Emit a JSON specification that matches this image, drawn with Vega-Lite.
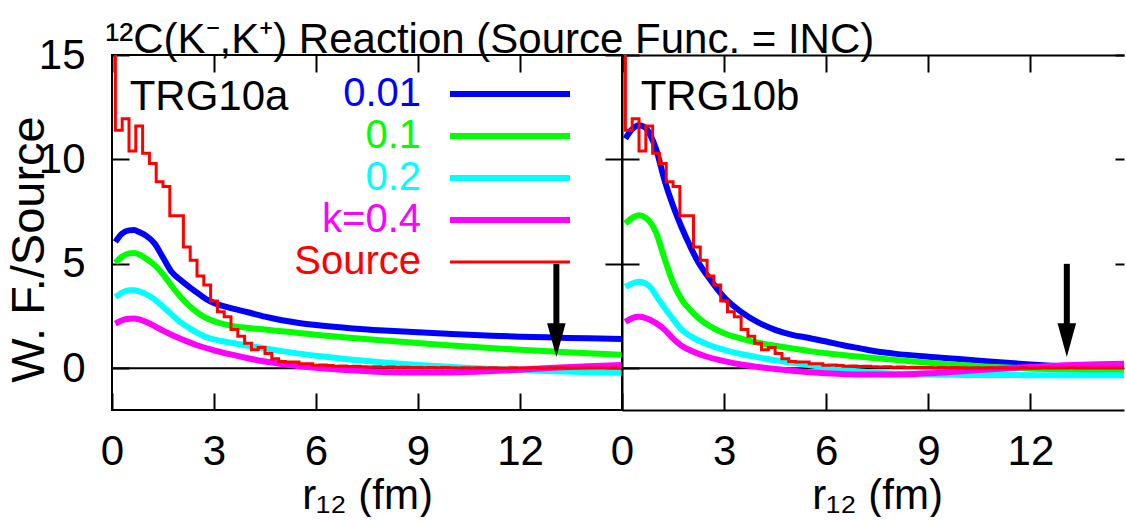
{
  "$schema": "https://vega.github.io/schema/vega-lite/v6.json",
  "background": "white",
  "padding": {"left": 4, "top": 18, "right": 0, "bottom": 0},
  "autosize": {"type": "pad"},
  "spacing": 0,
  "bounds": "flush",
  "config": {
    "font": "Liberation Sans",
    "view": {"stroke": "black", "strokeWidth": 2},
    "axis": {
      "domain": false, "grid": false, "domainColor": "black", "domainWidth": 2,
      "tickColor": "black", "tickWidth": 2,
      "labelFontSize": 42, "labelColor": "black", "labelFlush": false, "labelOverlap": false,
      "titleFontSize": 42, "titleFontWeight": "normal", "titleColor": "black"
    },
    "text": {"font": "Liberation Sans"}
  },
  "datasets": {
    "curves": [
      {"panel": "TRG10a", "series": "0.01", "x": 0.1, "y": 6.05},
      {"panel": "TRG10a", "series": "0.01", "x": 0.3, "y": 6.45},
      {"panel": "TRG10a", "series": "0.01", "x": 0.5, "y": 6.6},
      {"panel": "TRG10a", "series": "0.01", "x": 0.65, "y": 6.62},
      {"panel": "TRG10a", "series": "0.01", "x": 0.8, "y": 6.52},
      {"panel": "TRG10a", "series": "0.01", "x": 1.0, "y": 6.35},
      {"panel": "TRG10a", "series": "0.01", "x": 1.25, "y": 5.98},
      {"panel": "TRG10a", "series": "0.01", "x": 1.5, "y": 5.3},
      {"panel": "TRG10a", "series": "0.01", "x": 1.75, "y": 4.62},
      {"panel": "TRG10a", "series": "0.01", "x": 2.0, "y": 4.25},
      {"panel": "TRG10a", "series": "0.01", "x": 2.25, "y": 3.92},
      {"panel": "TRG10a", "series": "0.01", "x": 2.5, "y": 3.62},
      {"panel": "TRG10a", "series": "0.01", "x": 2.75, "y": 3.33},
      {"panel": "TRG10a", "series": "0.01", "x": 3.0, "y": 3.12},
      {"panel": "TRG10a", "series": "0.01", "x": 3.5, "y": 2.88},
      {"panel": "TRG10a", "series": "0.01", "x": 4.0, "y": 2.68},
      {"panel": "TRG10a", "series": "0.01", "x": 4.5, "y": 2.47},
      {"panel": "TRG10a", "series": "0.01", "x": 5.0, "y": 2.3},
      {"panel": "TRG10a", "series": "0.01", "x": 5.5, "y": 2.17},
      {"panel": "TRG10a", "series": "0.01", "x": 6.0, "y": 2.07},
      {"panel": "TRG10a", "series": "0.01", "x": 7.0, "y": 1.92},
      {"panel": "TRG10a", "series": "0.01", "x": 8.0, "y": 1.81},
      {"panel": "TRG10a", "series": "0.01", "x": 9.0, "y": 1.72},
      {"panel": "TRG10a", "series": "0.01", "x": 10.0, "y": 1.64},
      {"panel": "TRG10a", "series": "0.01", "x": 11.0, "y": 1.57},
      {"panel": "TRG10a", "series": "0.01", "x": 12.0, "y": 1.51},
      {"panel": "TRG10a", "series": "0.01", "x": 13.0, "y": 1.47},
      {"panel": "TRG10a", "series": "0.01", "x": 14.0, "y": 1.43},
      {"panel": "TRG10a", "series": "0.01", "x": 15.0, "y": 1.4},

      {"panel": "TRG10a", "series": "0.1", "x": 0.1, "y": 5.05},
      {"panel": "TRG10a", "series": "0.1", "x": 0.3, "y": 5.35},
      {"panel": "TRG10a", "series": "0.1", "x": 0.5, "y": 5.5},
      {"panel": "TRG10a", "series": "0.1", "x": 0.65, "y": 5.52},
      {"panel": "TRG10a", "series": "0.1", "x": 0.8, "y": 5.45},
      {"panel": "TRG10a", "series": "0.1", "x": 1.0, "y": 5.25},
      {"panel": "TRG10a", "series": "0.1", "x": 1.25, "y": 4.95},
      {"panel": "TRG10a", "series": "0.1", "x": 1.5, "y": 4.5},
      {"panel": "TRG10a", "series": "0.1", "x": 1.75, "y": 3.95},
      {"panel": "TRG10a", "series": "0.1", "x": 2.0, "y": 3.45},
      {"panel": "TRG10a", "series": "0.1", "x": 2.25, "y": 3.02},
      {"panel": "TRG10a", "series": "0.1", "x": 2.5, "y": 2.68},
      {"panel": "TRG10a", "series": "0.1", "x": 2.75, "y": 2.42},
      {"panel": "TRG10a", "series": "0.1", "x": 3.0, "y": 2.25},
      {"panel": "TRG10a", "series": "0.1", "x": 3.5, "y": 2.04},
      {"panel": "TRG10a", "series": "0.1", "x": 4.0, "y": 1.93},
      {"panel": "TRG10a", "series": "0.1", "x": 4.5, "y": 1.85},
      {"panel": "TRG10a", "series": "0.1", "x": 5.0, "y": 1.77},
      {"panel": "TRG10a", "series": "0.1", "x": 5.5, "y": 1.69},
      {"panel": "TRG10a", "series": "0.1", "x": 6.0, "y": 1.6},
      {"panel": "TRG10a", "series": "0.1", "x": 7.0, "y": 1.46},
      {"panel": "TRG10a", "series": "0.1", "x": 8.0, "y": 1.33},
      {"panel": "TRG10a", "series": "0.1", "x": 9.0, "y": 1.21},
      {"panel": "TRG10a", "series": "0.1", "x": 10.0, "y": 1.09},
      {"panel": "TRG10a", "series": "0.1", "x": 11.0, "y": 0.98},
      {"panel": "TRG10a", "series": "0.1", "x": 12.0, "y": 0.88},
      {"panel": "TRG10a", "series": "0.1", "x": 13.0, "y": 0.8},
      {"panel": "TRG10a", "series": "0.1", "x": 14.0, "y": 0.72},
      {"panel": "TRG10a", "series": "0.1", "x": 15.0, "y": 0.65},

      {"panel": "TRG10a", "series": "0.2", "x": 0.1, "y": 3.4},
      {"panel": "TRG10a", "series": "0.2", "x": 0.3, "y": 3.62},
      {"panel": "TRG10a", "series": "0.2", "x": 0.5, "y": 3.73},
      {"panel": "TRG10a", "series": "0.2", "x": 0.65, "y": 3.74},
      {"panel": "TRG10a", "series": "0.2", "x": 0.8, "y": 3.68},
      {"panel": "TRG10a", "series": "0.2", "x": 1.0, "y": 3.55},
      {"panel": "TRG10a", "series": "0.2", "x": 1.25, "y": 3.3},
      {"panel": "TRG10a", "series": "0.2", "x": 1.5, "y": 2.95},
      {"panel": "TRG10a", "series": "0.2", "x": 1.75, "y": 2.58},
      {"panel": "TRG10a", "series": "0.2", "x": 2.0, "y": 2.22},
      {"panel": "TRG10a", "series": "0.2", "x": 2.25, "y": 1.95},
      {"panel": "TRG10a", "series": "0.2", "x": 2.5, "y": 1.7},
      {"panel": "TRG10a", "series": "0.2", "x": 2.75, "y": 1.5},
      {"panel": "TRG10a", "series": "0.2", "x": 3.0, "y": 1.38},
      {"panel": "TRG10a", "series": "0.2", "x": 3.5, "y": 1.22},
      {"panel": "TRG10a", "series": "0.2", "x": 4.0, "y": 1.08},
      {"panel": "TRG10a", "series": "0.2", "x": 4.5, "y": 0.95},
      {"panel": "TRG10a", "series": "0.2", "x": 5.0, "y": 0.82},
      {"panel": "TRG10a", "series": "0.2", "x": 5.5, "y": 0.7},
      {"panel": "TRG10a", "series": "0.2", "x": 6.0, "y": 0.6},
      {"panel": "TRG10a", "series": "0.2", "x": 7.0, "y": 0.42},
      {"panel": "TRG10a", "series": "0.2", "x": 8.0, "y": 0.27},
      {"panel": "TRG10a", "series": "0.2", "x": 9.0, "y": 0.15},
      {"panel": "TRG10a", "series": "0.2", "x": 10.0, "y": 0.06},
      {"panel": "TRG10a", "series": "0.2", "x": 11.0, "y": -0.02},
      {"panel": "TRG10a", "series": "0.2", "x": 12.0, "y": -0.09},
      {"panel": "TRG10a", "series": "0.2", "x": 13.0, "y": -0.14},
      {"panel": "TRG10a", "series": "0.2", "x": 14.0, "y": -0.19},
      {"panel": "TRG10a", "series": "0.2", "x": 15.0, "y": -0.22},

      {"panel": "TRG10a", "series": "k=0.4", "x": 0.1, "y": 2.14},
      {"panel": "TRG10a", "series": "k=0.4", "x": 0.3, "y": 2.3},
      {"panel": "TRG10a", "series": "k=0.4", "x": 0.5, "y": 2.37},
      {"panel": "TRG10a", "series": "k=0.4", "x": 0.65, "y": 2.38},
      {"panel": "TRG10a", "series": "k=0.4", "x": 0.8, "y": 2.34},
      {"panel": "TRG10a", "series": "k=0.4", "x": 1.0, "y": 2.22},
      {"panel": "TRG10a", "series": "k=0.4", "x": 1.25, "y": 2.02},
      {"panel": "TRG10a", "series": "k=0.4", "x": 1.5, "y": 1.8},
      {"panel": "TRG10a", "series": "k=0.4", "x": 1.75, "y": 1.6},
      {"panel": "TRG10a", "series": "k=0.4", "x": 2.0, "y": 1.42},
      {"panel": "TRG10a", "series": "k=0.4", "x": 2.5, "y": 1.1},
      {"panel": "TRG10a", "series": "k=0.4", "x": 3.0, "y": 0.86},
      {"panel": "TRG10a", "series": "k=0.4", "x": 3.5, "y": 0.66},
      {"panel": "TRG10a", "series": "k=0.4", "x": 4.0, "y": 0.48},
      {"panel": "TRG10a", "series": "k=0.4", "x": 4.5, "y": 0.32},
      {"panel": "TRG10a", "series": "k=0.4", "x": 5.0, "y": 0.2},
      {"panel": "TRG10a", "series": "k=0.4", "x": 5.5, "y": 0.1},
      {"panel": "TRG10a", "series": "k=0.4", "x": 6.0, "y": 0.02},
      {"panel": "TRG10a", "series": "k=0.4", "x": 7.0, "y": -0.1},
      {"panel": "TRG10a", "series": "k=0.4", "x": 8.0, "y": -0.18},
      {"panel": "TRG10a", "series": "k=0.4", "x": 9.0, "y": -0.21},
      {"panel": "TRG10a", "series": "k=0.4", "x": 10.0, "y": -0.2},
      {"panel": "TRG10a", "series": "k=0.4", "x": 11.0, "y": -0.15},
      {"panel": "TRG10a", "series": "k=0.4", "x": 12.0, "y": -0.07},
      {"panel": "TRG10a", "series": "k=0.4", "x": 13.0, "y": 0.02},
      {"panel": "TRG10a", "series": "k=0.4", "x": 14.0, "y": 0.09},
      {"panel": "TRG10a", "series": "k=0.4", "x": 15.0, "y": 0.15},

      {"panel": "TRG10b", "series": "0.01", "x": 0.1, "y": 11.0},
      {"panel": "TRG10b", "series": "0.01", "x": 0.3, "y": 11.45},
      {"panel": "TRG10b", "series": "0.01", "x": 0.5, "y": 11.64},
      {"panel": "TRG10b", "series": "0.01", "x": 0.7, "y": 11.5},
      {"panel": "TRG10b", "series": "0.01", "x": 0.85, "y": 11.1},
      {"panel": "TRG10b", "series": "0.01", "x": 1.0, "y": 10.5},
      {"panel": "TRG10b", "series": "0.01", "x": 1.25, "y": 9.0},
      {"panel": "TRG10b", "series": "0.01", "x": 1.5, "y": 7.78},
      {"panel": "TRG10b", "series": "0.01", "x": 1.75, "y": 6.75},
      {"panel": "TRG10b", "series": "0.01", "x": 2.0, "y": 5.85},
      {"panel": "TRG10b", "series": "0.01", "x": 2.25, "y": 5.05},
      {"panel": "TRG10b", "series": "0.01", "x": 2.5, "y": 4.45},
      {"panel": "TRG10b", "series": "0.01", "x": 2.75, "y": 3.9},
      {"panel": "TRG10b", "series": "0.01", "x": 3.0, "y": 3.4},
      {"panel": "TRG10b", "series": "0.01", "x": 3.5, "y": 2.7},
      {"panel": "TRG10b", "series": "0.01", "x": 4.0, "y": 2.2},
      {"panel": "TRG10b", "series": "0.01", "x": 4.5, "y": 1.84},
      {"panel": "TRG10b", "series": "0.01", "x": 5.0, "y": 1.6},
      {"panel": "TRG10b", "series": "0.01", "x": 5.5, "y": 1.45},
      {"panel": "TRG10b", "series": "0.01", "x": 6.0, "y": 1.28},
      {"panel": "TRG10b", "series": "0.01", "x": 6.5, "y": 1.1},
      {"panel": "TRG10b", "series": "0.01", "x": 7.0, "y": 0.95},
      {"panel": "TRG10b", "series": "0.01", "x": 7.5, "y": 0.8},
      {"panel": "TRG10b", "series": "0.01", "x": 8.0, "y": 0.7},
      {"panel": "TRG10b", "series": "0.01", "x": 9.0, "y": 0.55},
      {"panel": "TRG10b", "series": "0.01", "x": 10.0, "y": 0.43},
      {"panel": "TRG10b", "series": "0.01", "x": 11.0, "y": 0.3},
      {"panel": "TRG10b", "series": "0.01", "x": 12.0, "y": 0.18},
      {"panel": "TRG10b", "series": "0.01", "x": 13.0, "y": 0.08},
      {"panel": "TRG10b", "series": "0.01", "x": 14.0, "y": 0.0},
      {"panel": "TRG10b", "series": "0.01", "x": 15.0, "y": -0.06},

      {"panel": "TRG10b", "series": "0.1", "x": 0.1, "y": 6.93},
      {"panel": "TRG10b", "series": "0.1", "x": 0.3, "y": 7.2},
      {"panel": "TRG10b", "series": "0.1", "x": 0.5, "y": 7.33},
      {"panel": "TRG10b", "series": "0.1", "x": 0.7, "y": 7.2},
      {"panel": "TRG10b", "series": "0.1", "x": 0.85, "y": 6.95},
      {"panel": "TRG10b", "series": "0.1", "x": 1.0, "y": 6.5},
      {"panel": "TRG10b", "series": "0.1", "x": 1.25, "y": 5.25},
      {"panel": "TRG10b", "series": "0.1", "x": 1.5, "y": 4.1},
      {"panel": "TRG10b", "series": "0.1", "x": 1.75, "y": 3.3},
      {"panel": "TRG10b", "series": "0.1", "x": 2.0, "y": 2.8},
      {"panel": "TRG10b", "series": "0.1", "x": 2.25, "y": 2.4},
      {"panel": "TRG10b", "series": "0.1", "x": 2.5, "y": 2.1},
      {"panel": "TRG10b", "series": "0.1", "x": 3.0, "y": 1.68},
      {"panel": "TRG10b", "series": "0.1", "x": 3.5, "y": 1.42},
      {"panel": "TRG10b", "series": "0.1", "x": 4.0, "y": 1.22},
      {"panel": "TRG10b", "series": "0.1", "x": 4.5, "y": 1.08},
      {"panel": "TRG10b", "series": "0.1", "x": 5.0, "y": 0.95},
      {"panel": "TRG10b", "series": "0.1", "x": 5.5, "y": 0.82},
      {"panel": "TRG10b", "series": "0.1", "x": 6.0, "y": 0.72},
      {"panel": "TRG10b", "series": "0.1", "x": 7.0, "y": 0.55},
      {"panel": "TRG10b", "series": "0.1", "x": 8.0, "y": 0.4},
      {"panel": "TRG10b", "series": "0.1", "x": 9.0, "y": 0.26},
      {"panel": "TRG10b", "series": "0.1", "x": 10.0, "y": 0.14},
      {"panel": "TRG10b", "series": "0.1", "x": 11.0, "y": 0.06},
      {"panel": "TRG10b", "series": "0.1", "x": 12.0, "y": -0.01},
      {"panel": "TRG10b", "series": "0.1", "x": 13.0, "y": -0.06},
      {"panel": "TRG10b", "series": "0.1", "x": 14.0, "y": -0.1},
      {"panel": "TRG10b", "series": "0.1", "x": 15.0, "y": -0.12},

      {"panel": "TRG10b", "series": "0.2", "x": 0.1, "y": 3.9},
      {"panel": "TRG10b", "series": "0.2", "x": 0.3, "y": 4.06},
      {"panel": "TRG10b", "series": "0.2", "x": 0.5, "y": 4.14},
      {"panel": "TRG10b", "series": "0.2", "x": 0.7, "y": 4.05},
      {"panel": "TRG10b", "series": "0.2", "x": 0.85, "y": 3.85},
      {"panel": "TRG10b", "series": "0.2", "x": 1.0, "y": 3.48},
      {"panel": "TRG10b", "series": "0.2", "x": 1.25, "y": 2.9},
      {"panel": "TRG10b", "series": "0.2", "x": 1.5, "y": 2.35},
      {"panel": "TRG10b", "series": "0.2", "x": 1.75, "y": 1.85},
      {"panel": "TRG10b", "series": "0.2", "x": 2.0, "y": 1.55},
      {"panel": "TRG10b", "series": "0.2", "x": 2.5, "y": 1.15},
      {"panel": "TRG10b", "series": "0.2", "x": 3.0, "y": 0.88},
      {"panel": "TRG10b", "series": "0.2", "x": 3.5, "y": 0.68},
      {"panel": "TRG10b", "series": "0.2", "x": 4.0, "y": 0.52},
      {"panel": "TRG10b", "series": "0.2", "x": 4.5, "y": 0.38},
      {"panel": "TRG10b", "series": "0.2", "x": 5.0, "y": 0.27},
      {"panel": "TRG10b", "series": "0.2", "x": 5.5, "y": 0.15},
      {"panel": "TRG10b", "series": "0.2", "x": 6.0, "y": 0.03},
      {"panel": "TRG10b", "series": "0.2", "x": 6.5, "y": -0.08},
      {"panel": "TRG10b", "series": "0.2", "x": 7.0, "y": -0.16},
      {"panel": "TRG10b", "series": "0.2", "x": 8.0, "y": -0.26},
      {"panel": "TRG10b", "series": "0.2", "x": 9.0, "y": -0.3},
      {"panel": "TRG10b", "series": "0.2", "x": 10.0, "y": -0.32},
      {"panel": "TRG10b", "series": "0.2", "x": 12.0, "y": -0.33},
      {"panel": "TRG10b", "series": "0.2", "x": 14.0, "y": -0.33},
      {"panel": "TRG10b", "series": "0.2", "x": 15.0, "y": -0.33},

      {"panel": "TRG10b", "series": "k=0.4", "x": 0.1, "y": 2.22},
      {"panel": "TRG10b", "series": "k=0.4", "x": 0.3, "y": 2.4},
      {"panel": "TRG10b", "series": "k=0.4", "x": 0.5, "y": 2.46},
      {"panel": "TRG10b", "series": "k=0.4", "x": 0.7, "y": 2.4},
      {"panel": "TRG10b", "series": "k=0.4", "x": 0.85, "y": 2.3},
      {"panel": "TRG10b", "series": "k=0.4", "x": 1.0, "y": 2.16},
      {"panel": "TRG10b", "series": "k=0.4", "x": 1.25, "y": 1.85},
      {"panel": "TRG10b", "series": "k=0.4", "x": 1.5, "y": 1.42},
      {"panel": "TRG10b", "series": "k=0.4", "x": 1.75, "y": 1.08},
      {"panel": "TRG10b", "series": "k=0.4", "x": 2.0, "y": 0.86},
      {"panel": "TRG10b", "series": "k=0.4", "x": 2.5, "y": 0.55},
      {"panel": "TRG10b", "series": "k=0.4", "x": 3.0, "y": 0.34},
      {"panel": "TRG10b", "series": "k=0.4", "x": 3.5, "y": 0.18},
      {"panel": "TRG10b", "series": "k=0.4", "x": 4.0, "y": 0.06},
      {"panel": "TRG10b", "series": "k=0.4", "x": 4.5, "y": -0.04},
      {"panel": "TRG10b", "series": "k=0.4", "x": 5.0, "y": -0.12},
      {"panel": "TRG10b", "series": "k=0.4", "x": 6.0, "y": -0.24},
      {"panel": "TRG10b", "series": "k=0.4", "x": 7.0, "y": -0.3},
      {"panel": "TRG10b", "series": "k=0.4", "x": 8.0, "y": -0.3},
      {"panel": "TRG10b", "series": "k=0.4", "x": 9.0, "y": -0.24},
      {"panel": "TRG10b", "series": "k=0.4", "x": 10.0, "y": -0.14},
      {"panel": "TRG10b", "series": "k=0.4", "x": 11.0, "y": -0.04},
      {"panel": "TRG10b", "series": "k=0.4", "x": 12.0, "y": 0.06},
      {"panel": "TRG10b", "series": "k=0.4", "x": 13.0, "y": 0.14},
      {"panel": "TRG10b", "series": "k=0.4", "x": 14.0, "y": 0.19},
      {"panel": "TRG10b", "series": "k=0.4", "x": 15.0, "y": 0.22}
    ],
    "source": [
      {"x": 0.0, "y": 40}, {"x": 0.2, "y": 11.4}, {"x": 0.4, "y": 11.95}, {"x": 0.6, "y": 10.4},
      {"x": 0.8, "y": 11.6}, {"x": 1.0, "y": 10.3}, {"x": 1.2, "y": 9.8}, {"x": 1.4, "y": 8.93},
      {"x": 1.6, "y": 8.7}, {"x": 1.8, "y": 7.3}, {"x": 2.0, "y": 7.3}, {"x": 2.2, "y": 5.8},
      {"x": 2.4, "y": 5.17}, {"x": 2.6, "y": 4.42}, {"x": 2.8, "y": 3.98}, {"x": 3.0, "y": 3.22},
      {"x": 3.2, "y": 2.7}, {"x": 3.4, "y": 2.46}, {"x": 3.6, "y": 1.85}, {"x": 3.8, "y": 1.53},
      {"x": 4.0, "y": 1.2}, {"x": 4.2, "y": 0.88}, {"x": 4.4, "y": 0.99}, {"x": 4.6, "y": 0.7},
      {"x": 4.8, "y": 0.45}, {"x": 5.0, "y": 0.32}, {"x": 5.2, "y": 0.3}, {"x": 5.4, "y": 0.3},
      {"x": 5.6, "y": 0.22}, {"x": 5.8, "y": 0.22}, {"x": 6.0, "y": 0.14}, {"x": 6.2, "y": 0.16},
      {"x": 6.4, "y": 0.13}, {"x": 6.6, "y": 0.1}, {"x": 6.8, "y": 0.11}, {"x": 7.0, "y": 0.08},
      {"x": 7.2, "y": 0.1}, {"x": 7.4, "y": 0.07}, {"x": 7.6, "y": 0.06}, {"x": 7.8, "y": 0.07},
      {"x": 8.0, "y": 0.05}, {"x": 8.2, "y": 0.06}, {"x": 8.4, "y": 0.04}, {"x": 8.6, "y": 0.05},
      {"x": 8.8, "y": 0.03}, {"x": 9.0, "y": 0.04}, {"x": 9.2, "y": 0.02}, {"x": 9.4, "y": 0.03},
      {"x": 9.6, "y": 0.02}, {"x": 9.8, "y": 0.03}, {"x": 10.0, "y": 0.02}, {"x": 10.2, "y": 0.01},
      {"x": 10.4, "y": 0.02}, {"x": 10.6, "y": 0.01}, {"x": 10.8, "y": 0.02}, {"x": 11.0, "y": 0.01},
      {"x": 11.2, "y": 0.02}, {"x": 11.4, "y": 0.01}, {"x": 11.6, "y": 0.01}, {"x": 11.8, "y": 0.02},
      {"x": 12.0, "y": 0.01}, {"x": 12.2, "y": 0.01}, {"x": 12.4, "y": 0.02}, {"x": 12.6, "y": 0.01},
      {"x": 12.8, "y": 0.01}, {"x": 13.0, "y": 0.01}, {"x": 13.2, "y": 0.02}, {"x": 13.4, "y": 0.01},
      {"x": 13.6, "y": 0.01}, {"x": 13.8, "y": 0.01}, {"x": 14.0, "y": 0.01}, {"x": 14.2, "y": 0.01},
      {"x": 14.4, "y": 0.01}, {"x": 14.6, "y": 0.01}, {"x": 14.8, "y": 0.01}, {"x": 15.0, "y": 0.01}
    ],
    "arrow": [{"x": 13.07, "top": 5.0, "base": 2.05, "head": 1.35}]
  },
  "resolve": {"legend": {"color": "independent"}},
  "hconcat": [
    {
      "width": 510,
      "height": 355,
      "resolve": {"axis": {"x": "independent", "y": "independent"}},
      "layer": [
        {
          "data": {"values": [{"z": 0}]},
          "mark": {"type": "rule", "color": "black", "strokeWidth": 2},
          "encoding": {"y": {"field": "z", "type": "quantitative", "axis": null}}
        },
        {
          "data": {"name": "curves"},
          "transform": [{"filter": "datum.panel === 'TRG10a'"}],
          "mark": {"type": "line", "strokeWidth": 6, "interpolate": "monotone", "clip": true},
          "encoding": {
            "x": {"field": "x", "type": "quantitative", "scale": {"domain": [0, 15], "nice": false, "zero": false},
                  "axis": {"orient": "bottom", "values": [0, 3, 6, 9, 12], "tickSize": -17, "labelPadding": 38,
                           "title": "r₁₂ (fm)", "titleY": 98, "titleBaseline": "alphabetic"}},
            "y": {"field": "y", "type": "quantitative", "scale": {"domain": [-2, 15], "nice": false, "zero": false},
                  "axis": {"orient": "left", "values": [0, 5, 10, 15], "tickSize": -17, "labelPadding": 44,
                           "title": "W. F./Source", "titleFontSize": 47, "titleX": -68.5, "titleY": 194, "titleBaseline": "alphabetic"}},
            "color": {"field": "series", "type": "nominal",
                      "scale": {"domain": ["0.01", "0.1", "0.2", "k=0.4", "Source"],
                                "range": ["#0000ff", "#00ff00", "#00ffff", "#ff00ff", "#ff0000"]},
                      "legend": {"orient": "none", "legendX": 378, "legendY": 19, "title": null,
                                 "symbolType": "stroke", "symbolSize": 14400, "symbolStrokeWidth": 6,
                                 "labelFontSize": 40, "labelAlign": "right", "labelBaseline": "middle",
                                 "labelOffset": -109, "labelLimit": 0, "rowPadding": 2, "padding": 0,
                                 "encode": {
                                   "symbols": {"update": {"strokeWidth": {"signal": "datum.label === 'Source' ? 3 : 6"}}},
                                   "labels": {"update": {"fill": {"signal": "datum.label === '0.01' ? '#0000ff' : datum.label === '0.1' ? '#00ff00' : datum.label === '0.2' ? '#00ffff' : datum.label === 'k=0.4' ? '#ff00ff' : '#ff0000'"}}}
                                 }}}
          }
        },
        {
          "data": {"name": "source"},
          "mark": {"type": "line", "strokeWidth": 3, "interpolate": "step", "clip": true},
          "encoding": {
            "x": {"field": "x", "type": "quantitative",
                  "axis": {"orient": "top", "values": [0, 3, 6, 9, 12, 15], "tickSize": -17, "labels": false, "title": null}},
            "y": {"field": "y", "type": "quantitative",
                  "axis": {"orient": "right", "values": [0, 5, 10, 15], "tickSize": -17, "labels": false, "title": null}},
            "color": {"datum": "Source", "type": "nominal"}
          }
        },
        {
          "data": {"name": "arrow"},
          "mark": {"type": "rule", "color": "black", "strokeWidth": 6},
          "encoding": {
            "x": {"field": "x", "type": "quantitative", "axis": null},
            "y": {"field": "top", "type": "quantitative", "axis": null},
            "y2": {"field": "base"}
          }
        },
        {
          "data": {"name": "arrow"},
          "mark": {"type": "point", "shape": "M -0.55 -1 L 0.55 -1 L 0 1 Z", "filled": true, "color": "black", "size": 1136, "opacity": 1, "strokeWidth": 0},
          "encoding": {
            "x": {"field": "x", "type": "quantitative", "axis": null},
            "y": {"field": "head", "type": "quantitative", "axis": null}
          }
        },
        {
          "data": {"values": [{"label": "TRG10a"}]},
          "mark": {"type": "text", "fontSize": 42, "align": "left", "baseline": "alphabetic", "color": "black"},
          "encoding": {
            "text": {"field": "label"},
            "x": {"datum": 0.52, "type": "quantitative", "axis": null},
            "y": {"datum": 12.36, "type": "quantitative", "axis": null}
          }
        },
        {
          "data": {"values": [{"t": "¹²C(K⁻,K⁺) Reaction (Source Func. = INC)"}]},
          "mark": {"type": "text", "fontSize": 42, "align": "left", "baseline": "alphabetic", "color": "black", "clip": false},
          "encoding": {
            "text": {"field": "t"},
            "x": {"datum": -0.2, "type": "quantitative", "axis": null},
            "y": {"datum": 15.08, "type": "quantitative", "axis": null}
          }
        }
      ]
    },
    {
      "width": 502,
      "height": 355,
      "view": {"stroke": null},
      "resolve": {"axis": {"x": "independent", "y": "independent"}},
      "layer": [
        {
          "data": {"values": [{"z": 0}]},
          "mark": {"type": "rule", "color": "black", "strokeWidth": 2},
          "encoding": {"y": {"field": "z", "type": "quantitative", "axis": null}}
        },
        {
          "data": {"name": "curves"},
          "transform": [{"filter": "datum.panel === 'TRG10b'"}],
          "mark": {"type": "line", "strokeWidth": 6, "interpolate": "monotone", "clip": true},
          "encoding": {
            "x": {"field": "x", "type": "quantitative", "scale": {"domain": [0, 14.75], "nice": false, "zero": false},
                  "axis": {"orient": "bottom", "values": [0, 3, 6, 9, 12], "tickSize": -17, "labelPadding": 38, "domain": true,
                           "title": "r₁₂ (fm)", "titleY": 98, "titleBaseline": "alphabetic", "titleX": 255}},
            "y": {"field": "y", "type": "quantitative", "scale": {"domain": [-2, 15], "nice": false, "zero": false},
                  "axis": {"orient": "left", "values": [0, 5, 10, 15], "tickSize": -17, "labels": false, "title": null, "domain": true}},
            "color": {"field": "series", "type": "nominal",
                      "scale": {"domain": ["0.01", "0.1", "0.2", "k=0.4", "Source"],
                                "range": ["#0000ff", "#00ff00", "#00ffff", "#ff00ff", "#ff0000"]},
                      "legend": null}
          }
        },
        {
          "data": {"name": "source"},
          "mark": {"type": "line", "strokeWidth": 3, "interpolate": "step", "clip": true},
          "encoding": {
            "x": {"field": "x", "type": "quantitative",
                  "axis": {"orient": "top", "values": [0, 3, 6, 9, 12], "tickSize": -17, "labels": false, "title": null, "domain": true}},
            "y": {"field": "y", "type": "quantitative",
                  "axis": {"orient": "right", "values": [0, 5, 10, 15], "tickSize": -9, "labels": false, "title": null}},
            "color": {"datum": "Source", "type": "nominal", "legend": null}
          }
        },
        {
          "data": {"name": "arrow"},
          "mark": {"type": "rule", "color": "black", "strokeWidth": 6},
          "encoding": {
            "x": {"field": "x", "type": "quantitative", "axis": null},
            "y": {"field": "top", "type": "quantitative", "axis": null},
            "y2": {"field": "base"}
          }
        },
        {
          "data": {"name": "arrow"},
          "mark": {"type": "point", "shape": "M -0.55 -1 L 0.55 -1 L 0 1 Z", "filled": true, "color": "black", "size": 1136, "opacity": 1, "strokeWidth": 0},
          "encoding": {
            "x": {"field": "x", "type": "quantitative", "axis": null},
            "y": {"field": "head", "type": "quantitative", "axis": null}
          }
        },
        {
          "data": {"values": [{"label": "TRG10b"}]},
          "mark": {"type": "text", "fontSize": 42, "align": "left", "baseline": "alphabetic", "color": "black"},
          "encoding": {
            "text": {"field": "label"},
            "x": {"datum": 0.55, "type": "quantitative", "axis": null},
            "y": {"datum": 12.36, "type": "quantitative", "axis": null}
          }
        }
      ]
    }
  ]
}
